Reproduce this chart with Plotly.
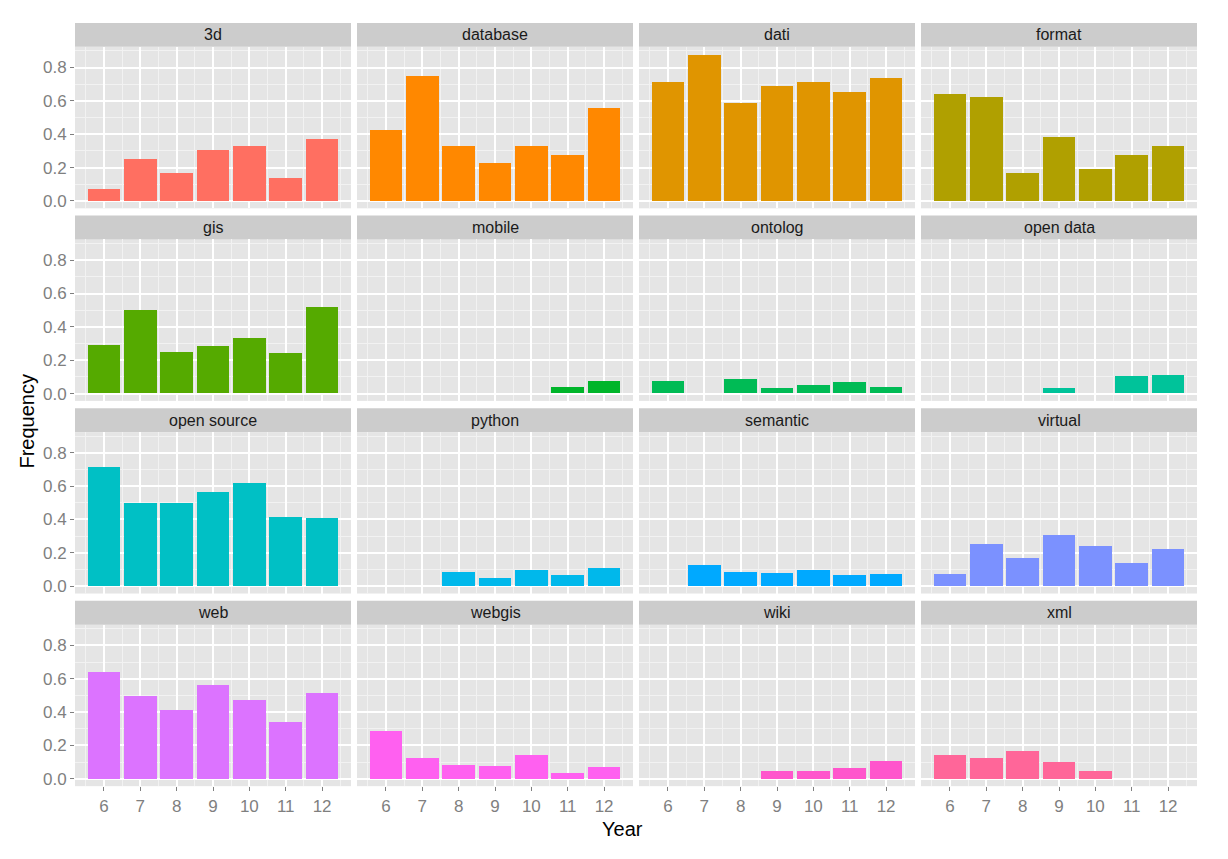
import plotly.graph_objects as go

years = [6, 7, 8, 9, 10, 11, 12]
terms = ["3d", "database", "dati", "format",
         "gis", "mobile", "ontolog", "open data",
         "open source", "python", "semantic", "virtual",
         "web", "webgis", "wiki", "xml"]

freq_3d          = [0.071, 0.250, 0.166, 0.308, 0.333, 0.137, 0.370]
freq_database    = [0.429, 0.750, 0.333, 0.231, 0.333, 0.276, 0.556]
freq_dati        = [0.714, 0.879, 0.586, 0.692, 0.714, 0.655, 0.741]
freq_format      = [0.643, 0.625, 0.166, 0.385, 0.190, 0.276, 0.333]
freq_gis         = [0.286, 0.500, 0.248, 0.281, 0.333, 0.240, 0.519]
freq_mobile      = [0.0, 0.0, 0.0, 0.0, 0.0, 0.034, 0.074]
freq_ontolog     = [0.071, 0.0, 0.083, 0.028, 0.050, 0.067, 0.036]
freq_open_data   = [0.0, 0.0, 0.0, 0.028, 0.0, 0.103, 0.111]
freq_open_source = [0.714, 0.500, 0.500, 0.565, 0.619, 0.414, 0.407]
freq_python      = [0.0, 0.0, 0.083, 0.051, 0.095, 0.069, 0.111]
freq_semantic    = [0.0, 0.125, 0.083, 0.077, 0.095, 0.069, 0.074]
freq_virtual     = [0.071, 0.250, 0.166, 0.308, 0.238, 0.137, 0.222]
freq_web         = [0.643, 0.500, 0.417, 0.565, 0.476, 0.345, 0.519]
freq_webgis      = [0.286, 0.125, 0.083, 0.077, 0.143, 0.034, 0.074]
freq_wiki        = [0.0, 0.0, 0.0, 0.051, 0.048, 0.067, 0.111]
freq_xml         = [0.143, 0.125, 0.166, 0.103, 0.048, 0.0, 0.0]

series = [freq_3d, freq_database, freq_dati, freq_format,
          freq_gis, freq_mobile, freq_ontolog, freq_open_data,
          freq_open_source, freq_python, freq_semantic, freq_virtual,
          freq_web, freq_webgis, freq_wiki, freq_xml]

colors = ["#FF6F61", "#FF8800", "#E09500", "#B0A000",
          "#55AA00", "#00B52A", "#00BB55", "#00C39A",
          "#00C0C5", "#00B8EB", "#00A9FF", "#7B91FF",
          "#DC73FF", "#FF60F0", "#FF55CC", "#FF6699"]

# page body has an 8px margin: work in page coordinates, convert with OFF
OFF = 8
W, H = 1220, 851
col_left0, col_w, col_step = 75, 276, 282
row_top0, row_step, strip_h, panel_h = 23, 193.3, 24, 162


def px(x):
    return (x - OFF) / W


def py(y):
    return 1 - (y - OFF) / H


FONT = "Liberation Sans, Arial, Helvetica, sans-serif"
fig = go.Figure()
shapes, annotations = [], []
layout = {}

for i, (term, vals, col) in enumerate(zip(terms, series, colors)):
    r, c = divmod(i, 4)
    ax = "" if i == 0 else str(i + 1)
    x0 = col_left0 + c * col_step
    x1 = x0 + col_w
    strip_top = row_top0 + r * row_step
    ptop = strip_top + strip_h
    pbot = ptop + panel_h

    fig.add_trace(go.Bar(x=years, y=vals, width=0.9, marker_color=col,
                         marker_line_width=0, xaxis="x" + ax, yaxis="y" + ax,
                         showlegend=False))

    show_x = (r == 3)
    show_y = (c == 0)
    layout["xaxis" + ax] = dict(
        domain=[px(x0), px(x1)], anchor="y" + ax, range=[5.205, 12.795],
        tickmode="array", tickvals=years, ticktext=[str(y) for y in years],
        showticklabels=show_x, ticks="outside" if show_x else "",
        ticklen=4, tickwidth=1, tickcolor="#7F7F7F",
        tickfont=dict(family=FONT, size=17, color="#7F7F7F"),
        showgrid=True, gridcolor="white", gridwidth=1.6,
        zeroline=False, showline=False, fixedrange=True,
        minor=dict(tickvals=[y + 0.5 for y in [5] + years], showgrid=True,
                   gridcolor="#F2F2F2", gridwidth=0.8, ticks=""),
    )
    layout["yaxis" + ax] = dict(
        domain=[py(pbot), py(ptop)], anchor="x" + ax, range=[-0.044, 0.924],
        tickmode="array", tickvals=[0, 0.2, 0.4, 0.6, 0.8],
        ticktext=["0.0", "0.2", "0.4", "0.6", "0.8"],
        showticklabels=show_y, ticks="outside" if show_y else "",
        ticklen=4, tickwidth=1, tickcolor="#7F7F7F",
        tickfont=dict(family=FONT, size=17, color="#7F7F7F"),
        showgrid=True, gridcolor="white", gridwidth=1.6,
        zeroline=False, showline=False, fixedrange=True,
        minor=dict(tickvals=[0.1, 0.3, 0.5, 0.7, 0.9], showgrid=True,
                   gridcolor="#F2F2F2", gridwidth=0.8, ticks=""),
    )
    shapes.append(dict(type="rect", xref="paper", yref="paper",
                       x0=px(x0), x1=px(x1), y0=py(ptop), y1=py(strip_top),
                       fillcolor="#CCCCCC", line_width=0, layer="below"))
    annotations.append(dict(text=term, xref="paper", yref="paper",
                            x=px((x0 + x1) / 2), y=py(strip_top + strip_h / 2),
                            xanchor="center", yanchor="middle", showarrow=False,
                            font=dict(family=FONT, size=16, color="#1A1A1A")))

annotations.append(dict(text="Year", xref="paper", yref="paper",
                        x=px(622), y=py(832), xanchor="center", yanchor="middle",
                        showarrow=False, font=dict(family=FONT, size=20, color="black")))
annotations.append(dict(text="Frequency", xref="paper", yref="paper",
                        x=px(27), y=py(423), xanchor="center", yanchor="middle",
                        textangle=-90, showarrow=False,
                        font=dict(family=FONT, size=20, color="black")))

fig.update_layout(
    width=W, height=H, margin=dict(l=0, r=0, t=0, b=0),
    paper_bgcolor="white", plot_bgcolor="#E5E5E5",
    shapes=shapes, annotations=annotations, bargap=0, **layout,
)
fig.write_html("out.html")
